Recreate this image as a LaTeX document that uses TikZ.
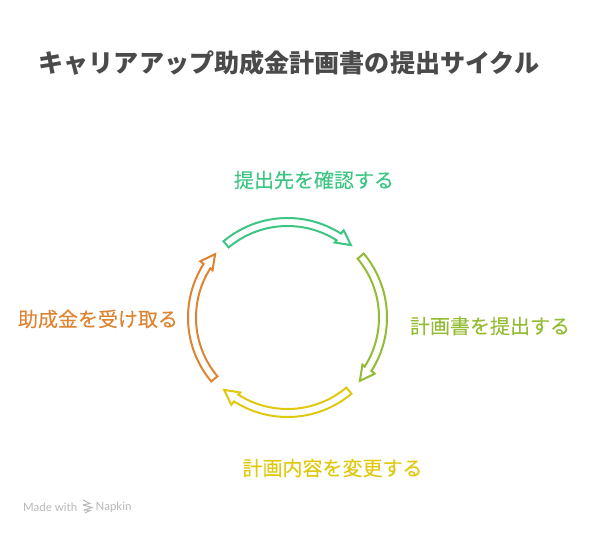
\documentclass[tikz,border=0pt]{standalone}
\usepackage{fontspec}
\setmainfont{Noto Sans CJK JP}
\newfontfamily\stepfont[FakeBold=0.1]{Noto Sans CJK JP}
\newfontfamily\lato{Lato}
\definecolor{cgreen}{HTML}{3CC583}
\definecolor{clime}{HTML}{93BC35}
\definecolor{cyellow}{HTML}{E0C80F}
\definecolor{corange}{HTML}{DE8431}
\definecolor{ctitle}{HTML}{4A4A4A}
\definecolor{cmark}{HTML}{B8B8B8}
\tikzset{
  x=1pt,y=-1pt,
  cyclearrow/.style={line width=2pt,line join=miter,fill=none},
  titletext/.style={font=\bfseries\fontsize{25.1}{30}\selectfont,text=ctitle,inner sep=0pt,anchor=center},
  steptext/.style={font=\stepfont\fontsize{20}{24}\selectfont,inner sep=0pt,anchor=center},
  marktext/.style={font=\lato\fontsize{11.5}{14}\selectfont,text=cmark,inner sep=0pt,anchor=west},
  markstroke/.style={draw=cmark,line width=1pt,line join=miter}
}
% #1 rotation (anticlockwise), #2 colour
\newcommand{\cyclearc}[2]{%
  \begin{scope}[shift={(287.5,317.5)},y=1pt,rotate=#1]
    \draw[cyclearrow,draw=#2]
      (130:99.5) arc[start angle=130,end angle=57.5,radius=99.5]
      -- (57.2:103.8) -- (48.8:96.2) -- (57.8:88.6) -- (57.5:91.5)
      arc[start angle=57.5,end angle=130,radius=91.5] -- cycle;
  \end{scope}}
\begin{document}
\begin{tikzpicture}
\useasboundingbox (0,0) rectangle (595,535);
\node[titletext] (title) at (289,63) {キャリアアップ助成金計画書の提出サイクル};
\node[steptext,text=cgreen] (s1) at (314,180) {提出先を確認する};
\node[steptext,text=clime] (s2) at (490,326) {計画書を提出する};
\node[steptext,text=cyellow] (s3) at (332.5,468) {計画内容を変更する};
\node[steptext,text=corange] (s4) at (98,319) {助成金を受け取る};
\cyclearc{0}{cgreen}
\cyclearc{-90}{clime}
\cyclearc{-180}{cyellow}
\cyclearc{90}{corange}
\node[marktext] (made) at (23,507) {Made with};
\draw[markstroke] (83,500) -- (90,503.5) -- (83,505);
\draw[markstroke] (83,505) -- (92,507.5) -- (84,510);
\draw[markstroke] (84,510) -- (90,510.5) -- (85,513);
\node[marktext] (napkin) at (95.5,507) {Napkin};
\end{tikzpicture}
\end{document}
